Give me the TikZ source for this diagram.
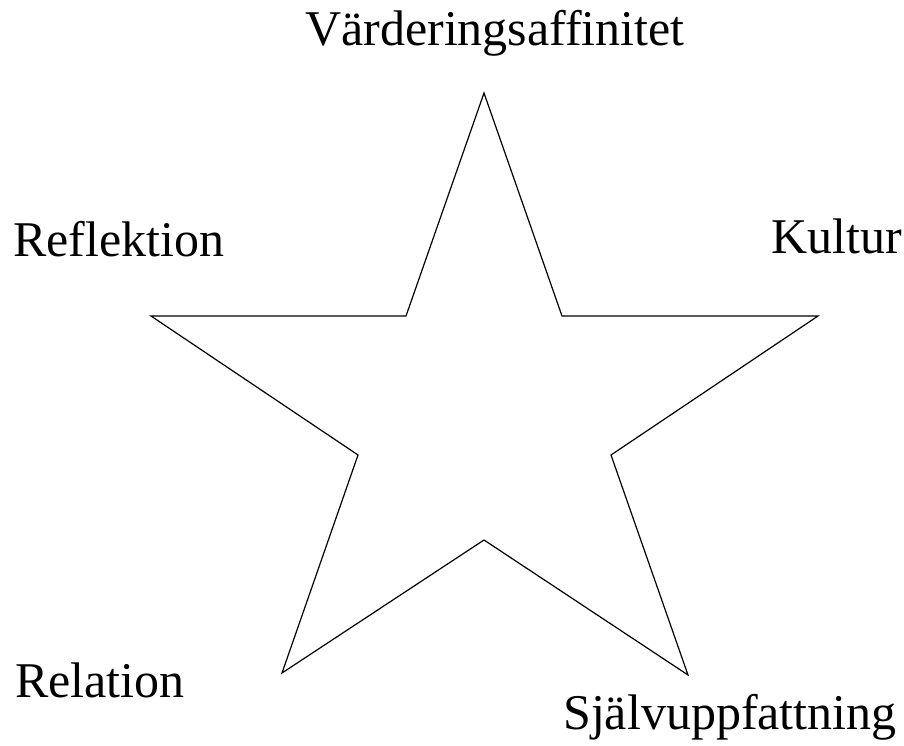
\documentclass[tikz,border=0pt]{standalone}
\usepackage{fontspec}
\setmainfont{Liberation Serif}
\usepackage{tikz}
\tikzset{
  label/.style={anchor=base west, inner sep=0pt, font=\fontsize{50}{60}\selectfont},
  starline/.style={draw, line width=1.2pt, line join=miter},
}

\begin{document}
\begin{tikzpicture}[x=1pt, y=-1pt]
  \useasboundingbox (0,0) rectangle (904,746);

  % Star points (outer and inner)
  \coordinate (top) at (484,93);
  \coordinate (in1) at (562,316);
  \coordinate (right) at (818,316);
  \coordinate (in2) at (611,455);
  \coordinate (botr) at (688,675);
  \coordinate (in3) at (484,540);
  \coordinate (botl) at (282,673);
  \coordinate (in4) at (358,455);
  \coordinate (left) at (151,316);
  \coordinate (in5) at (406,316);

  % Star
  \draw[starline] (top) -- (in1) -- (right) -- (in2) -- (botr) -- (in3)
    -- (botl) -- (in4) -- (left) -- (in5) -- cycle;

  % Labels
  \node[label] (varde) at (305,46) {Värderingsaffinitet};
  \node[label] (reflek) at (13,256) {Reflektion};
  \node[label] (kultur) at (771,253) {Kultur};
  \node[label] (relation) at (15,697) {Relation};
  \node[label] (sjalv) at (563,729) {Självuppfattning};

\end{tikzpicture}
\end{document}
